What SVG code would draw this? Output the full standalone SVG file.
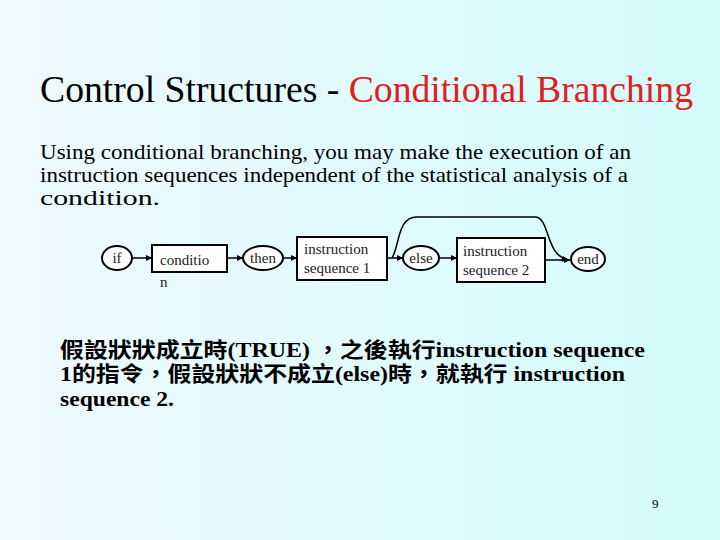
<svg xmlns="http://www.w3.org/2000/svg" width="720" height="540" viewBox="0 0 720 540">
<defs>
<linearGradient id="bg" x1="0" y1="0" x2="1" y2="0"><stop offset="0" stop-color="#eefaff"/><stop offset="1" stop-color="#d4fbfb"/></linearGradient>
<marker id="ah" viewBox="0 0 10 10" refX="10" refY="5" markerWidth="7" markerHeight="6" orient="auto" markerUnits="userSpaceOnUse"><path d="M0,0 L10,5 L0,10 z" fill="#000"/></marker>
<style>
.n{fill:#fff;stroke:#000;stroke-width:2}
.t{font-family:"Liberation Serif",serif;font-size:15px;fill:#222}
.c{stroke:#000;stroke-width:1.5;fill:none;marker-end:url(#ah)}
.p{font-family:"Liberation Serif",serif;font-size:21px}
.z{font-family:"Liberation Serif","Noto Sans CJK TC",serif;font-size:21px;font-weight:bold}
</style>
</defs>
<rect width="720" height="540" fill="url(#bg)"/>
<text x="40" y="102" font-family="Liberation Serif,serif" font-size="37" textLength="653" lengthAdjust="spacingAndGlyphs"><tspan fill="#000">Control Structures - </tspan><tspan fill="#e02020">Conditional Branching</tspan></text>
<text class="p" x="40" y="159" textLength="591" lengthAdjust="spacingAndGlyphs">Using conditional branching, you may make the execution of an</text>
<text class="p" x="40" y="182" textLength="588" lengthAdjust="spacingAndGlyphs">instruction sequences independent of the statistical analysis of a</text>
<text class="p" x="40" y="205" textLength="120" lengthAdjust="spacingAndGlyphs">condition.</text>
<g id="connectors">
<line class="c" x1="133" y1="258" x2="152" y2="258"/>
<line class="c" x1="227" y1="258" x2="243" y2="258"/>
<line class="c" x1="283" y1="258" x2="297" y2="258"/>
<line class="c" x1="387" y1="258" x2="403" y2="258"/>
<line class="c" x1="440" y1="258" x2="457" y2="258"/>
<line class="c" x1="545" y1="260" x2="570" y2="260"/>
<path class="c" d="M392,258 C400,245 397,217 417,217 L535,217 C550,217 545,255 568,260"/>
</g>
<g id="if"><ellipse class="n" cx="117" cy="258" rx="15" ry="12"/><text class="t" x="117" y="263" text-anchor="middle">if</text></g>
<g id="condition"><rect class="n" x="152" y="245" width="75" height="27"/><text class="t" x="160" y="265">conditio</text><text class="t" x="160" y="287">n</text></g>
<g id="then"><ellipse class="n" cx="263" cy="258" rx="20" ry="12"/><text class="t" x="263" y="263" text-anchor="middle">then</text></g>
<g id="seq1"><rect class="n" x="297" y="237" width="90" height="43"/><text class="t" x="304" y="254">instruction</text><text class="t" x="304" y="273">sequence 1</text></g>
<g id="else"><ellipse class="n" cx="421" cy="258" rx="18" ry="12"/><text class="t" x="421" y="263" text-anchor="middle">else</text></g>
<g id="seq2"><rect class="n" x="457" y="238" width="88" height="44"/><text class="t" x="463" y="256">instruction</text><text class="t" x="463" y="275">sequence 2</text></g>
<g id="end"><ellipse class="n" cx="588" cy="259" rx="17" ry="12"/><text class="t" x="588" y="264" text-anchor="middle">end</text></g>
<text class="z" x="60" y="357" textLength="585" lengthAdjust="spacingAndGlyphs">假設狀狀成立時(TRUE) ，之後執行instruction sequence</text>
<text class="z" x="60" y="381" textLength="565" lengthAdjust="spacingAndGlyphs">1的指令，假設狀狀不成立(else)時，就執行 instruction</text>
<text class="z" x="60" y="406" textLength="114" lengthAdjust="spacingAndGlyphs">sequence 2.</text>
<text x="652" y="508" font-family="Liberation Serif,serif" font-size="13">9</text>
</svg>
